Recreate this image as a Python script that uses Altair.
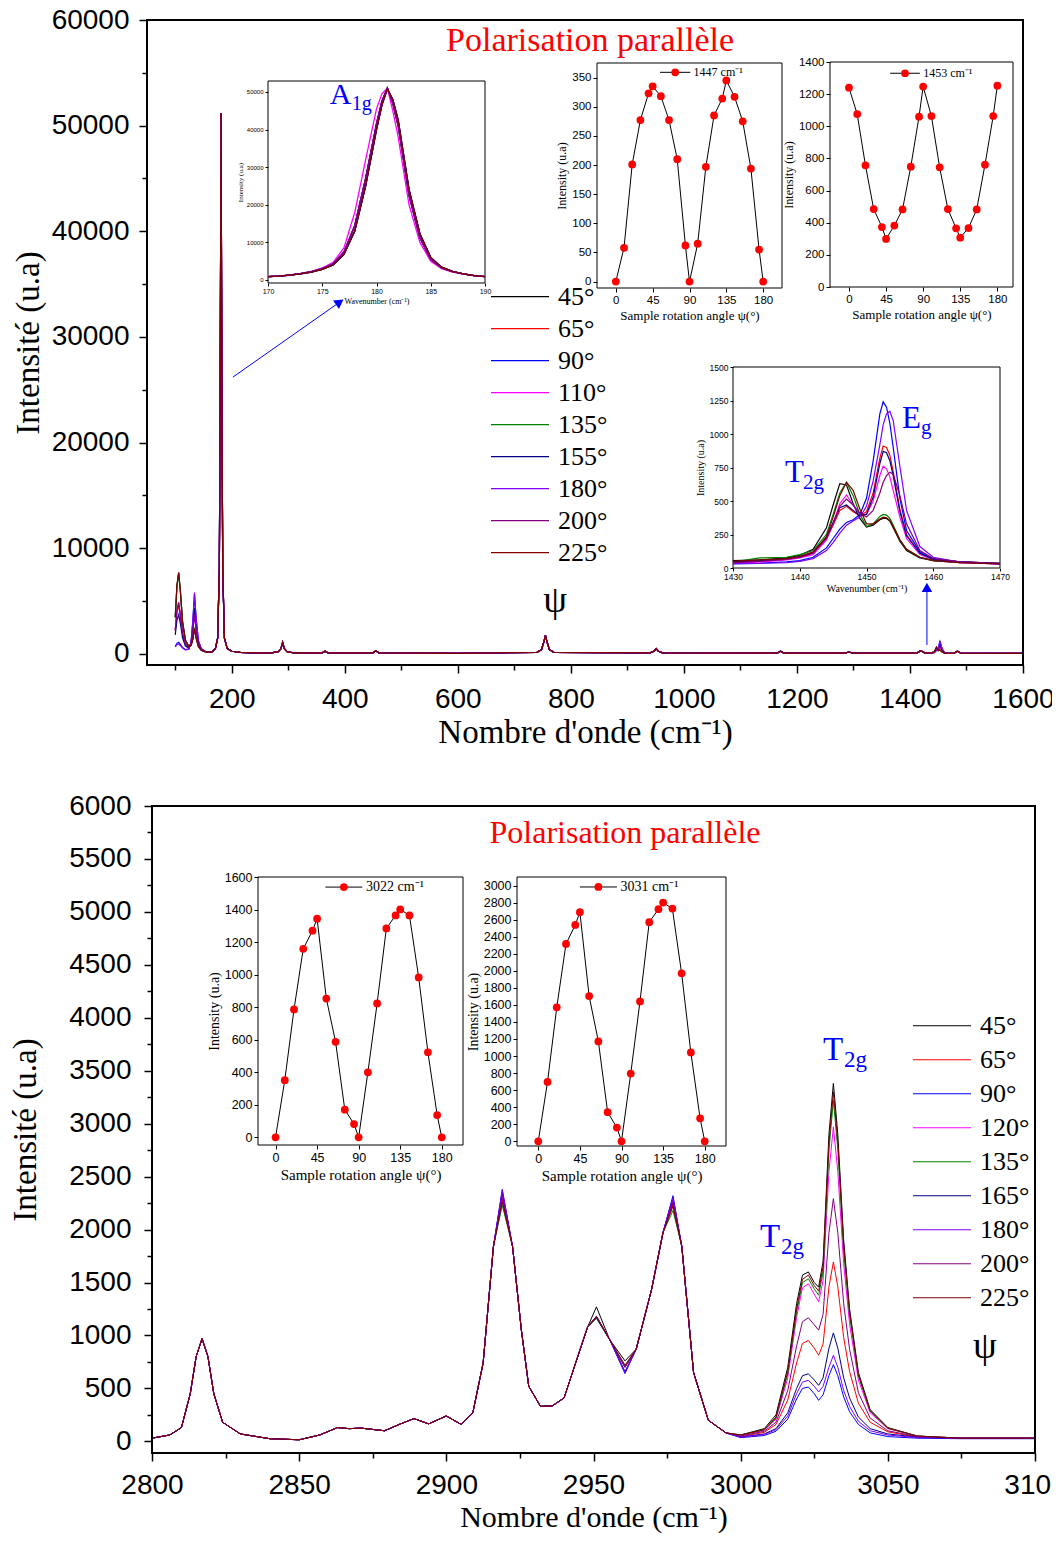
import altair as alt
import pandas as pd

W, H = 1044, 1528
SERIF = "Liberation Serif"
SANS = "Liberation Sans"
BLUE = "#0000ff"
RED = "#ff0000"

# ---------------------------------------------------------------- data
TOP_ANGLES = ["45°", "65°", "90°", "110°", "135°", "155°", "180°", "200°", "225°"]
BOT_ANGLES = ["45°", "65°", "90°", "120°", "135°", "165°", "180°", "200°", "225°"]
COLORS = ["#000000", "#ff0000", "#0000ff", "#ff00ff", "#008000",
          "#000080", "#8000ff", "#800080", "#800000"]

# top spectrum (100 - 1600 cm-1)
top_x_low = [100, 103, 106, 109, 113, 118, 124, 128, 131, 134, 137, 141, 146, 152, 158]
top_y_low = {
    "45°":  [3500, 6500, 7700, 6000, 3000, 1300, 700, 800, 1400, 2400, 1500, 700, 350, 220, 170],
    "65°":  [2200, 4000, 4600, 3600, 1900, 900, 600, 1000, 2300, 4000, 2500, 1000, 450, 250, 180],
    "90°":  [700, 1000, 1100, 900, 600, 400, 450, 1100, 3000, 5600, 3300, 1200, 500, 260, 180],
    "110°": [2300, 4200, 4900, 3800, 2000, 950, 650, 1000, 2200, 3800, 2300, 950, 430, 240, 170],
    "135°": [3400, 6400, 7600, 5900, 2900, 1300, 700, 800, 1400, 2500, 1550, 700, 350, 220, 170],
    "155°": [1800, 3200, 3700, 2900, 1500, 750, 550, 1000, 2500, 4350, 2700, 1050, 470, 250, 180],
    "180°": [650, 900, 950, 800, 550, 380, 450, 1150, 3100, 5800, 3400, 1250, 520, 270, 180],
    "200°": [2200, 4100, 4800, 3700, 1950, 930, 640, 1000, 2200, 3700, 2250, 930, 420, 240, 170],
    "225°": [3500, 6500, 7700, 6000, 3000, 1300, 700, 800, 1350, 2360, 1450, 680, 340, 220, 170],
}
top_x_mid = [165, 171, 175, 178, 179.5, 181, 182.5, 184, 187, 192,
             200, 215, 240, 270, 282, 287, 290, 293, 298, 310,
             360, 365, 370, 450, 455, 460, 600, 740, 748, 752,
             755, 758, 762, 770, 940, 947, 951, 955, 962, 1165,
             1171, 1177, 1285, 1292, 1299, 1412, 1419, 1426, 1438]
top_y_mid = [200, 500, 1500, 8000, 25000, 51200, 25000, 8000, 1500, 500,
             250, 150, 100, 100, 200, 500, 1100, 500, 200, 100,
             100, 250, 100, 100, 300, 100, 50, 150, 400, 1100,
             1750, 1100, 400, 150, 100, 250, 500, 250, 100, 80,
             250, 80, 80, 180, 80, 80, 300, 100, 100]
top_x_high = [1443, 1447, 1450, 1453, 1457, 1462]
top_y_high = {
    "45°":  [200, 630, 305, 370, 180, 60],
    "65°":  [180, 460, 420, 910, 300, 60],
    "90°":  [120, 340, 520, 1240, 400, 60],
    "110°": [170, 545, 400, 760, 300, 60],
    "135°": [190, 640, 310, 400, 180, 60],
    "155°": [170, 470, 400, 870, 320, 60],
    "180°": [110, 320, 460, 1170, 500, 60],
    "200°": [160, 515, 380, 690, 400, 60],
    "225°": [180, 640, 330, 380, 180, 60],
}
top_x_tail = [1478, 1484, 1490, 1600]
top_y_tail = [80, 250, 80, 50]

# A1g inset (170 - 190 cm-1)
a1g_x = [170, 171, 172, 173, 174, 175, 176, 177, 178, 179, 180, 180.5, 181,
         181.5, 182, 183, 184, 185, 186, 187, 188, 189, 190]
a1g_mid = [890, 1050, 1300, 1700, 2200, 3000, 4300, 7400, 14500, 27000, 41500, 47500, 51000,
           47000, 41000, 22500, 11200, 5500, 3200, 2200, 1600, 1150, 890]
a1g_left = [900, 1070, 1330, 1750, 2300, 3200, 4700, 8500, 18000, 32000, 45500, 49500, 51000,
            45000, 38000, 20000, 10000, 5000, 3000, 2100, 1550, 1120, 880]
a1g_right = [880, 1040, 1280, 1650, 2100, 2850, 4000, 6800, 13000, 25000, 40000, 46500, 50800,
             48000, 42500, 24000, 12300, 6000, 3400, 2300, 1650, 1180, 900]
a1g_y = {"45°": a1g_right, "65°": a1g_mid, "90°": a1g_mid, "110°": a1g_left,
         "135°": a1g_mid, "155°": a1g_right, "180°": a1g_mid, "200°": a1g_mid,
         "225°": a1g_right}

# Eg / T2g inset (1430 - 1470 cm-1)
eg_x = [1430, 1434, 1438, 1440, 1442, 1444, 1445, 1446, 1447, 1448, 1449, 1450,
        1451, 1452, 1452.5, 1453, 1453.5, 1454, 1455, 1456, 1458, 1460, 1464, 1470]
eg_y = {
    "45°":  [55, 60, 75, 95, 140, 300, 470, 630, 620, 480, 370, 305, 320, 360, 370, 370, 350, 300, 200, 130, 75, 55, 40, 30],
    "65°":  [40, 50, 65, 80, 110, 220, 320, 430, 460, 420, 390, 420, 560, 820, 910, 900, 840, 720, 440, 250, 110, 65, 45, 35],
    "90°":  [30, 35, 45, 55, 80, 150, 220, 290, 340, 360, 400, 520, 800, 1150, 1240, 1200, 1080, 900, 520, 280, 120, 70, 45, 30],
    "110°": [35, 45, 60, 75, 100, 210, 330, 480, 545, 470, 400, 400, 500, 690, 760, 740, 680, 580, 380, 220, 100, 60, 40, 30],
    "135°": [45, 75, 80, 100, 130, 250, 400, 560, 640, 540, 400, 310, 330, 385, 400, 395, 370, 320, 210, 140, 80, 55, 45, 35],
    "155°": [45, 55, 70, 85, 115, 230, 340, 450, 470, 430, 390, 400, 530, 780, 870, 860, 800, 690, 420, 240, 110, 65, 45, 35],
    "180°": [35, 35, 40, 50, 70, 130, 190, 260, 320, 350, 380, 460, 650, 920, 1070, 1150, 1170, 1100, 760, 430, 160, 80, 45, 30],
    "200°": [40, 50, 65, 80, 110, 220, 330, 460, 515, 470, 410, 380, 430, 560, 640, 690, 715, 700, 540, 330, 130, 70, 45, 35],
    "225°": [50, 60, 70, 85, 120, 230, 380, 540, 640, 580, 440, 330, 330, 365, 380, 375, 355, 310, 210, 140, 80, 55, 40, 30],
}

# angle dependence insets
psi = [0, 10, 20, 30, 40, 45, 55, 65, 75, 85, 90, 100, 110, 120, 130, 135, 145, 155, 165, 175, 180]
i1447 = [0, 58, 201, 277, 323, 335, 318, 277, 210, 62, 0, 65, 197, 285, 314, 345, 317, 275, 194, 55, 0]
i1453 = [1240, 1076, 757, 485, 373, 299, 382, 483, 749, 1060, 1247, 1064, 745, 485, 365, 307, 367, 483, 761, 1064, 1253]
i3022 = [0, 351, 786, 1159, 1270, 1344, 853, 587, 170, 82, 0, 400, 823, 1284, 1364, 1401, 1364, 983, 523, 137, 0]
i3031 = [0, 697, 1571, 2315, 2538, 2687, 1704, 1171, 341, 161, 0, 795, 1641, 2570, 2722, 2800, 2730, 1970, 1042, 270, 0]

# bottom spectrum (2800 - 3100 cm-1)
bot_x_common = [2800, 2806, 2810, 2813, 2815, 2817, 2819, 2821, 2824,
                2830, 2840, 2850, 2857, 2863, 2867, 2871, 2879, 2884, 2889,
                2894, 2900, 2905, 2909, 2912.5, 2916, 2922.5, 2925.5, 2928, 2932,
                2936, 2940, 2945, 2948, 2955.5, 2964.5, 2969.7, 2973.6, 2980, 2984,
                2989, 2995]
bot_y_common = [30, 60, 130, 450, 800, 970, 800, 450, 180,
                70, 25, 15, 60, 130, 120, 125, 100, 160, 215,
                165, 240, 160, 270, 740, 1840, 1840, 1050, 520, 330,
                335, 410, 830, 1080, 960, 870, 1430, 1970, 1840, 650,
                200, 80]
bot_x_var = [2919, 2951, 2960.7, 2977]
bot_y_var = {
    "45°": [2300, 1270, 760, 2250], "65°": [2280, 1180, 710, 2230],
    "90°": [2380, 1170, 640, 2320], "120°": [2320, 1180, 700, 2280],
    "135°": [2230, 1160, 700, 2180], "165°": [2350, 1170, 660, 2300],
    "180°": [2370, 1180, 650, 2300], "200°": [2300, 1180, 700, 2260],
    "225°": [2260, 1180, 720, 2220],
}
bot_x_t2g = [3000, 3008, 3012, 3016, 3019, 3021, 3023, 3025, 3026.5, 3028, 3030,
             3031.5, 3033, 3035, 3037, 3040, 3044, 3050, 3060, 3075, 3100]
bot_y_t2g = {
    "45°":  [60, 120, 250, 700, 1300, 1570, 1600, 1500, 1457, 1700, 2900, 3380, 2900, 1900, 1250, 650, 300, 130, 50, 30, 30],
    "65°":  [45, 85, 160, 390, 740, 925, 953, 880, 813, 920, 1460, 1694, 1460, 980, 660, 360, 180, 90, 40, 30, 30],
    "90°":  [35, 55, 95, 210, 400, 500, 513, 450, 387, 440, 620, 724, 620, 420, 280, 160, 80, 45, 30, 25, 25],
    "120°": [55, 105, 210, 600, 1170, 1450, 1488, 1390, 1318, 1520, 2550, 2970, 2550, 1680, 1110, 580, 270, 120, 50, 30, 30],
    "135°": [60, 110, 220, 640, 1220, 1500, 1535, 1440, 1380, 1600, 2750, 3220, 2760, 1800, 1190, 620, 285, 125, 50, 30, 30],
    "165°": [40, 70, 120, 270, 500, 620, 638, 580, 529, 600, 880, 1024, 880, 600, 410, 230, 120, 70, 40, 30, 30],
    "180°": [40, 65, 110, 240, 450, 560, 576, 520, 466, 520, 700, 813, 700, 480, 330, 190, 100, 60, 35, 30, 30],
    "200°": [50, 95, 180, 480, 900, 1130, 1167, 1100, 1050, 1200, 1970, 2292, 1970, 1300, 870, 460, 220, 100, 45, 30, 30],
    "225°": [60, 110, 230, 660, 1250, 1530, 1570, 1470, 1420, 1650, 2820, 3300, 2830, 1850, 1220, 630, 290, 125, 50, 30, 30],
}

# ---------------------------------------------------------------- tables
rows = []
for a in TOP_ANGLES:
    xs = top_x_low + top_x_mid + top_x_high + top_x_tail
    ys = top_y_low[a] + top_y_mid + top_y_high[a] + top_y_tail
    rows += [{"x": x, "y": y, "a": a} for x, y in zip(xs, ys)]
top_df = pd.DataFrame(rows)

a1g_df = pd.DataFrame([{"x": x, "y": y, "a": a} for a in TOP_ANGLES
                       for x, y in zip(a1g_x, a1g_y[a])])
eg_df = pd.DataFrame([{"x": x, "y": y, "a": a} for a in TOP_ANGLES
                      for x, y in zip(eg_x, eg_y[a])])

rows = []
for a in BOT_ANGLES:
    xs = bot_x_common + bot_x_var + bot_x_t2g
    ys = bot_y_common + bot_y_var[a] + bot_y_t2g[a]
    rows += [{"x": x, "y": y, "a": a} for x, y in zip(xs, ys)]
bot_df = pd.DataFrame(rows)

# ---------------------------------------------------------------- panels
PANELS = {
    "top":   dict(xd=[50, 1600], xr=[139, 1015], yd=[-1050, 60000], yr=[657, 12]),
    "a1g":   dict(xd=[170, 190], xr=[260, 477], yd=[-800, 52900], yr=[275, 73]),
    "p1447": dict(xd=[-23, 203], xr=[589, 774], yd=[-11, 375], yr=[280, 55]),
    "p1453": dict(xd=[-23, 199], xr=[822, 1005], yd=[0, 1400], yr=[279, 54]),
    "eg":    dict(xd=[1430, 1470], xr=[725, 992], yd=[0, 1500], yr=[560, 359]),
    "bot":   dict(xd=[2800, 3100], xr=[144, 1027], yd=[-110, 6000], yr=[1445, 798]),
    "p3022": dict(xd=[-19, 203], xr=[250, 455], yd=[-47, 1600], yr=[1137, 869]),
    "p3031": dict(xd=[-23, 203], xr=[509, 718], yd=[-55, 3100], yr=[1138, 869]),
}


def sx(p):
    P = PANELS[p]
    return alt.Scale(domain=P["xd"], range=P["xr"], nice=False, zero=False)


def sy(p):
    P = PANELS[p]
    return alt.Scale(domain=P["yd"], range=P["yr"], nice=False, zero=False)


def enc(p, xa=None, ya=None):
    return dict(x=alt.X("x:Q", scale=sx(p), axis=xa),
                y=alt.Y("y:Q", scale=sy(p), axis=ya))


def ax(p, orient, values, labels=True, title=None, lsize=28, tsize=33, tick=8,
       lpad=4, tpad=6, tw=1.5):
    P = PANELS[p]
    off = (P["yr"][0] - H) if orient == "bottom" else -P["xr"][0]
    return alt.Axis(orient=orient, offset=off, values=values, labels=labels, title=title,
                    grid=False, domain=False, ticks=True, tickSize=tick, tickWidth=tw,
                    tickColor="black", labelFont=SANS, labelFontSize=lsize,
                    labelColor="black", labelPadding=lpad, labelFlush=False,
                    labelOverlap=False, format="d", titleFont=SERIF, titleFontSize=tsize,
                    titleFontWeight="normal", titleColor="black", titlePadding=tpad)


def frame(p, sw, xa=None, ya=None):
    P = PANELS[p]
    df = pd.DataFrame({"x": [P["xd"][0]], "x2": [P["xd"][1]],
                       "y": [P["yd"][0]], "y2": [P["yd"][1]]})
    e = enc(p, xa, ya)
    return alt.Chart(df).mark_rect(fillOpacity=0, stroke="black", strokeWidth=sw).encode(
        x=e["x"], x2="x2:Q", y=e["y"], y2="y2:Q")


def txt(p, x, y, text, size, color="black", font=SERIF, align="left",
        baseline="alphabetic", dx=0, dy=0):
    df = pd.DataFrame({"x": [x], "y": [y], "t": [text]})
    return alt.Chart(df).mark_text(font=font, fontSize=size, color=color, align=align,
                                   baseline=baseline, dx=dx, dy=dy).encode(
        text="t:N", **enc(p))


def legend(x, y, rh):
    return alt.Legend(orient="none", legendX=x, legendY=y, title=None,
                      symbolType="stroke", symbolSize=3364, symbolStrokeWidth=1.2,
                      labelFont=SERIF, labelFontSize=26, labelColor="black",
                      clipHeight=rh, rowPadding=0, labelOffset=8, padding=0,
                      labelLimit=300)


def arrow(p, x1, y1, x2, y2, ang):
    df = pd.DataFrame({"x": [x1], "y": [y1], "x2": [x2], "y2": [y2]})
    e = enc(p)
    line = alt.Chart(df).mark_rule(color=BLUE, strokeWidth=1).encode(
        x=e["x"], y=e["y"], x2="x2:Q", y2="y2:Q")
    head_df = pd.DataFrame({"x": [x2], "y": [y2]})
    head = alt.Chart(head_df).mark_point(shape="triangle-up", filled=True, color=BLUE,
                                         opacity=1, size=110, angle=ang).encode(**enc(p))
    return [line, head]


def angle_inset(p, vals, yvals, key_x, key_y, key_text, lsize, xts, yts, kts):
    df = pd.DataFrame({"x": psi, "y": vals})
    line = alt.Chart(df).mark_line(color="black", strokeWidth=1).encode(
        **enc(p,
              ax(p, "bottom", [0, 45, 90, 135, 180], title="Sample rotation angle ψ(°)",
                 lsize=lsize, tsize=xts, tick=4, lpad=2, tpad=4, tw=1),
              ax(p, "left", yvals, title="Intensity (u.a)", lsize=lsize, tsize=yts,
                 tick=4, lpad=2, tpad=3, tw=1)))
    pts = alt.Chart(df).mark_circle(color=RED, size=60, opacity=1).encode(**enc(p))
    kdf = pd.DataFrame({"x": [key_x[0]], "y": [key_y], "x2": [key_x[1]]})
    e = enc(p)
    kline = alt.Chart(kdf).mark_rule(color="black", strokeWidth=1).encode(
        x=e["x"], y=e["y"], x2="x2:Q")
    kpt = alt.Chart(pd.DataFrame({"x": [(key_x[0] + key_x[1]) / 2], "y": [key_y]})).mark_circle(
        color=RED, size=60, opacity=1).encode(**enc(p))
    ktxt = txt(p, key_x[1] + 4, key_y, key_text, kts, baseline="middle")
    return [frame(p, 1), line, pts, kline, kpt, ktxt]


layers = []

# ---------------------------------------------------------------- top main
layers.append(alt.Chart(top_df).mark_line(strokeWidth=1.2).encode(
    color=alt.Color("a:N", scale=alt.Scale(domain=TOP_ANGLES, range=COLORS),
                    legend=legend(482, 273, 31.3)),
    **enc("top",
          ax("top", "bottom", list(range(200, 1601, 200)), title="Nombre d'onde (cm⁻¹)",
             lpad=12, tpad=3),
          ax("top", "left", list(range(0, 60001, 10000)), title="Intensité (u.a)",
             lpad=10, tpad=6))))
layers.append(frame("top", 2,
                    ax("top", "bottom", list(range(100, 1600, 200)), labels=False, tick=5),
                    ax("top", "left", list(range(5000, 60000, 10000)), labels=False, tick=5)))
layers.append(txt("top", 834, 57050, "Polarisation parallèle", 34, RED, align="center"))
layers.append(txt("top", 772, 3970, "ψ", 38, align="center"))
layers += arrow("top", 202, 26200, 391, 33300, 55)
layers += arrow("top", 1430, 850, 1430, 6300, 0)

# A1g inset
layers.append(frame("a1g", 1))
layers.append(alt.Chart(a1g_df).mark_line(strokeWidth=1.3).encode(
    color=alt.Color("a:N", scale=alt.Scale(domain=TOP_ANGLES, range=COLORS), legend=None),
    **enc("a1g",
          ax("a1g", "bottom", [170, 175, 180, 185, 190], title="Wavenumber (cm⁻¹)",
             lsize=7, tsize=8, tick=3, lpad=1, tpad=3, tw=1),
          ax("a1g", "left", list(range(0, 50001, 10000)), title="Intensity (u.a)",
             lsize=6, tsize=7, tick=3, lpad=2, tpad=3, tw=1))))
layers.append(txt("a1g", 175.7, 46800, "A", 30, BLUE))
layers.append(txt("a1g", 175.7, 46800, "1g", 20, BLUE, dx=22, dy=6))

# 1447 / 1453 insets
layers += angle_inset("p1447", i1447, list(range(0, 351, 50)), (54, 91), 359, "1447 cm⁻¹",
                      11.5, 13, 12, 12)
layers += angle_inset("p1453", i1453, list(range(0, 1401, 200)), (50, 86), 1330, "1453 cm⁻¹",
                      11.5, 13, 12, 12)

# Eg inset
layers.append(frame("eg", 1))
layers.append(alt.Chart(eg_df).mark_line(strokeWidth=1.2).encode(
    color=alt.Color("a:N", scale=alt.Scale(domain=TOP_ANGLES, range=COLORS), legend=None),
    **enc("eg",
          ax("eg", "bottom", [1430, 1440, 1450, 1460, 1470], title="Wavenumber (cm⁻¹)",
             lsize=8.5, tsize=10, tick=3, lpad=1, tpad=3, tw=1),
          ax("eg", "left", list(range(0, 1501, 250)), title="Intensity (u.a)",
             lsize=8.5, tsize=10, tick=3, lpad=2, tpad=4, tw=1))))
layers.append(txt("eg", 1455.3, 1045, "E", 31, BLUE))
layers.append(txt("eg", 1455.3, 1045, "g", 21, BLUE, dx=19, dy=6))
layers.append(txt("eg", 1437.8, 640, "T", 31, BLUE))
layers.append(txt("eg", 1437.8, 640, "2g", 21, BLUE, dx=18, dy=7))

# ---------------------------------------------------------------- bottom main
layers.append(alt.Chart(bot_df).mark_line(strokeWidth=1).encode(
    color=alt.Color("a:N", scale=alt.Scale(domain=BOT_ANGLES, range=COLORS),
                    legend=legend(904, 1001, 33.5)),
    **enc("bot",
          ax("bot", "bottom", list(range(2800, 3101, 50)), title="Nombre d'onde (cm⁻¹)",
             lpad=10, tsize=30, tpad=3),
          ax("bot", "left", list(range(0, 6001, 500)), title="Intensité (u.a)",
             lpad=13, tpad=26))))
layers.append(frame("bot", 2,
                    ax("bot", "bottom", list(range(2825, 3100, 50)), labels=False, tick=5),
                    ax("bot", "left", list(range(250, 6000, 500)), labels=False, tick=5)))
layers.append(txt("bot", 2960.7, 5650, "Polarisation parallèle", 32, RED, align="center"))
layers.append(txt("bot", 3083, 787, "ψ", 38, align="center"))
layers.append(txt("bot", 3006.6, 1835, "T", 33, BLUE))
layers.append(txt("bot", 3006.6, 1835, "2g", 23, BLUE, dx=21, dy=7))
layers.append(txt("bot", 3028, 3600, "T", 33, BLUE))
layers.append(txt("bot", 3028, 3600, "2g", 23, BLUE, dx=21, dy=7))

layers += angle_inset("p3022", i3022, list(range(0, 1601, 200)), (54, 94), 1538, "3022 cm⁻¹",
                      12.5, 15, 14, 14)
layers += angle_inset("p3031", i3031, list(range(0, 3001, 200)), (45, 85), 2983, "3031 cm⁻¹",
                      12.5, 15, 14, 14)

chart = alt.layer(*layers).resolve_scale(
    x="independent", y="independent", color="independent"
).properties(
    width=W, height=H, autosize=alt.AutoSizeParams(type="none"), padding=0
).configure_view(stroke=None)

chart.save("out.html", embed_options={"renderer": "svg", "actions": False})
